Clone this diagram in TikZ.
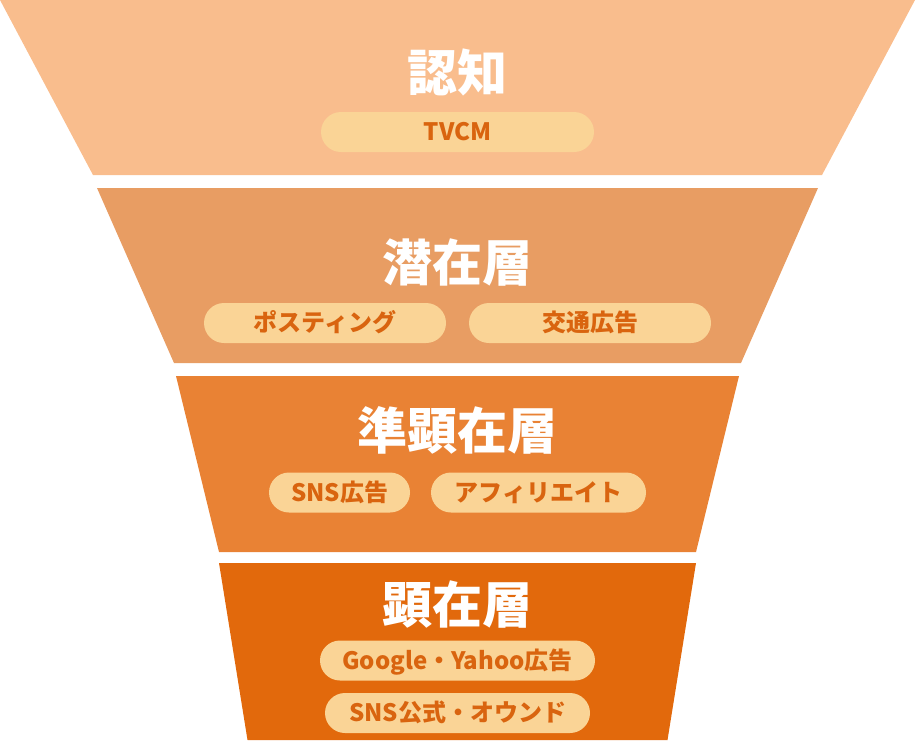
\documentclass[tikz,border=0pt]{standalone}
\usepackage{fontspec}
\setmainfont{Noto Sans CJK JP}
\definecolor{layerA}{HTML}{F9BD8D}
\definecolor{layerB}{HTML}{E89D63}
\definecolor{layerC}{HTML}{E98234}
\definecolor{layerD}{HTML}{E2690C}
\definecolor{pillc}{HTML}{FAD496}
\definecolor{pilltext}{HTML}{D9640F}
\begin{document}
\begin{tikzpicture}[x=1pt,y=-1pt,
  title/.style={text=white, font=\fontsize{50}{50}\selectfont\bfseries, inner sep=0pt, text height=38pt, text depth=0pt},
  pill/.style={fill=pillc, rounded corners=20pt, minimum height=40pt, inner sep=0pt, text=pilltext, font=\fontsize{24}{24}\selectfont\bfseries, text height=17.8pt, text depth=0pt}]
\useasboundingbox (0,0) rectangle (915,740);
% layers
\fill[layerA] (0,0) -- (915,0) -- (822,175) -- (93,175) -- cycle;
\fill[layerB] (97,188) -- (818,188) -- (741,363) -- (174,363) -- cycle;
\fill[layerC] (176,376) -- (739,376) -- (696,552) -- (219,552) -- cycle;
\fill[layerD] (219,563) -- (696,563) -- (667.5,740) -- (247.5,740) -- cycle;
% titles
\node[title] (t1) at (457.5,72) {認知};
\node[title] (t2) at (457.5,262) {潜在層};
\node[title] (t3) at (457.5,430) {準顕在層};
\node[title] (t4) at (457.5,604) {顕在層};
% pills
\node[pill, minimum width=273pt] (p1) at (457.5,132) {TVCM};
\node[pill, minimum width=242pt] (p2a) at (325,323) {ポスティング};
\node[pill, minimum width=242pt] (p2b) at (590,323) {交通広告};
\node[pill, minimum width=141pt] (p3a) at (339.5,492.5) {SNS広告};
\node[pill, minimum width=215pt] (p3b) at (538.5,492.5) {アフィリエイト};
\node[pill, minimum width=275pt] (p4a) at (457.5,660.5) {Google・Yahoo広告};
\node[pill, minimum width=265pt] (p4b) at (457.5,713) {SNS公式・オウンド};
\end{tikzpicture}
\end{document}
